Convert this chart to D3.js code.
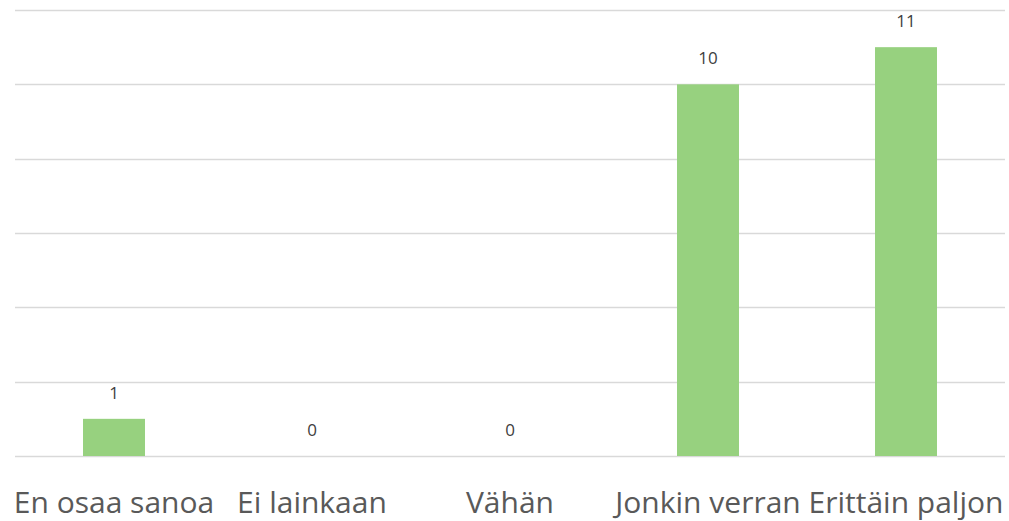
<!DOCTYPE html>
<html lang="fi">
<head>
<meta charset="UTF-8">
<title>Chart</title>
<style>
  body { margin: 0; background: #fff; }
  text { font-family: "Open Sans", "Noto Sans", sans-serif; fill: #595959; }
</style>
</head>
<body>
<script src="https://cdn.jsdelivr.net/npm/d3@7/dist/d3.min.js"></script>
<div id="chart"></div>
<script>
const categories = ["En osaa sanoa", "Ei lainkaan", "Vähän", "Jonkin verran", "Erittäin paljon"]
const values = [1, 0, 0, 10, 11]
const yTicks = [0, 2, 4, 6, 8, 10, 12]

const W = 1009, H = 521
const LEFT = 15, RIGHT = 1005, TOP = 10, BASE = 456

const svg = d3.select("#chart").append("svg")
    .attr("width", W).attr("height", H)

const x = d3.scaleBand().domain(categories).range([LEFT, RIGHT]).paddingInner(0.687).paddingOuter(0.3435)
const y = d3.scaleLinear().domain([0, 12]).range([BASE, TOP])

// gridlines
svg.append("g").selectAll("line").data(yTicks).join("line")
    .attr("x1", LEFT).attr("x2", RIGHT)
    .attr("y1", d => Math.round(y(d)) + 0.5).attr("y2", d => Math.round(y(d)) + 0.5)
    .style("stroke", "#d9d9d9").style("stroke-width", 1.5)

// bars
svg.append("g").selectAll("rect").data(values).join("rect")
    .attr("x", (d, i) => x(categories[i]))
    .attr("y", d => y(d))
    .attr("width", x.bandwidth())
    .attr("height", d => BASE - y(d))
    .style("fill", "#97d17f")

// value labels
svg.append("g").selectAll("text").data(values).join("text")
    .attr("x", (d, i) => x(categories[i]) + x.bandwidth() / 2)
    .attr("y", d => y(d) - 20)
    .attr("text-anchor", "middle")
    .style("font-size", "17px")
    .style("fill", "#404040")
    .text(d => d)

// category labels
svg.append("g").selectAll("text").data(categories).join("text")
    .attr("x", d => x(d) + x.bandwidth() / 2)
    .attr("y", 513)
    .attr("text-anchor", "middle")
    .style("font-size", "30px")
    .text(d => d)
</script>
</body>
</html>
